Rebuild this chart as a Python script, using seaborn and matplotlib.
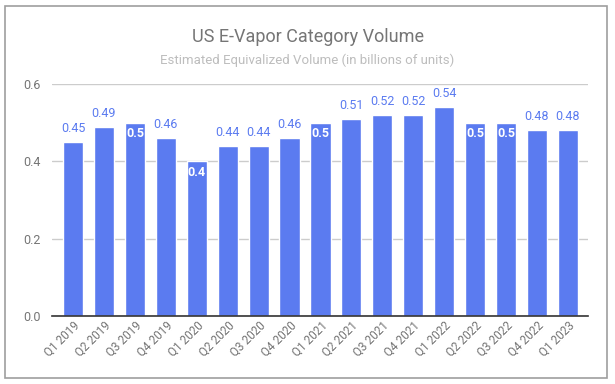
import matplotlib
matplotlib.use("Agg")
import matplotlib.pyplot as plt
import seaborn as sns
from matplotlib.patches import Rectangle

quarters = ["Q1 2019", "Q2 2019", "Q3 2019", "Q4 2019",
            "Q1 2020", "Q2 2020", "Q3 2020", "Q4 2020",
            "Q1 2021", "Q2 2021", "Q3 2021", "Q4 2021",
            "Q1 2022", "Q2 2022", "Q3 2022", "Q4 2022", "Q1 2023"]
volume = [0.45, 0.49, 0.5, 0.46, 0.4, 0.44, 0.44, 0.46,
          0.5, 0.51, 0.52, 0.52, 0.54, 0.5, 0.5, 0.48, 0.48]
y_ticks = [0.0, 0.2, 0.4, 0.6]

bar_color = "#5B7BF0"
grey = "#757575"

sns.set_theme(style="white")
plt.rcParams["font.family"] = ["Roboto", "DejaVu Sans"]

fig = plt.figure(figsize=(6.15, 3.84), dpi=100)
ax = fig.add_axes([52 / 615, 1 - 316 / 384, 536 / 615, 232 / 384])

sns.barplot(x=quarters, y=volume, color=bar_color, width=0.65,
            saturation=1, ax=ax)

# labels: google charts puts some of them inside the bar
for i, v in enumerate(volume):
    if v in (0.5, 0.4):
        ax.text(i, v - 0.012, f"{v:g}", ha="center", va="top",
                color="white", fontsize=9, fontweight="bold")
    else:
        ax.text(i, v + 0.018, f"{v:g}", ha="center", va="bottom",
                color=bar_color, fontsize=9, clip_on=False)

ax.set_xlim(-0.68, 16.65)
ax.set_ylim(0, 0.6)
ax.set_yticks(y_ticks)
ax.set_yticklabels([f"{t:.1f}" for t in y_ticks])
ax.yaxis.grid(True, color="#cccccc", linewidth=1)
ax.set_axisbelow(True)
for s in ["top", "right", "left"]:
    ax.spines[s].set_visible(False)
ax.spines["bottom"].set_color("#333333")
ax.spines["bottom"].set_linewidth(1.2)
ax.tick_params(axis="y", colors=grey, labelsize=9, length=0, pad=8)
ax.tick_params(axis="x", colors=grey, labelsize=8.5, length=0, pad=2)
plt.setp(ax.get_xticklabels(), rotation=45, ha="right", rotation_mode="anchor")
ax.set_xlabel("")
ax.set_ylabel("")

fig.text(0.5, 1 - 37 / 384, "US E-Vapor Category Volume", ha="center",
         va="center", color=grey, fontsize=13)
fig.text(0.5, 1 - 60 / 384, "Estimated Equivalized Volume (in billions of units)",
         ha="center", va="center", color="#bdbdbd", fontsize=9.5)

fig.patches.append(Rectangle((5 / 615, 6 / 384), 602 / 615, 372 / 384,
                             transform=fig.transFigure, fill=False,
                             edgecolor="#9e9e9e", linewidth=1.2))

fig.savefig("out.png", dpi=100)
